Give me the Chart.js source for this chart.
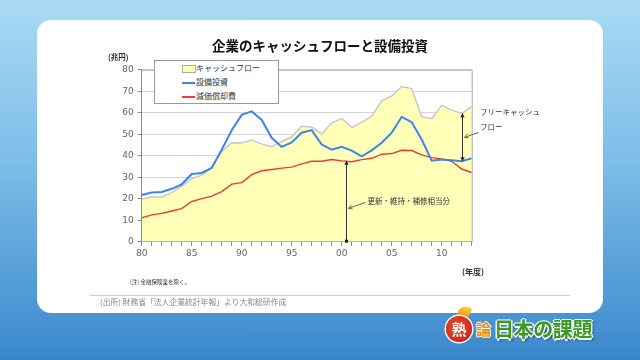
<!DOCTYPE html>
<html><head><meta charset="utf-8">
<script src="https://cdn.jsdelivr.net/npm/chart.js@4/dist/chart.umd.min.js"></script>
<style>
html,body{margin:0;padding:0;}
body{width:640px;height:360px;position:relative;overflow:hidden;
 background:linear-gradient(to bottom,#a9dbf4 0%,#7dbde8 45%,#3a88cc 100%);
 font-family:"Noto Sans CJK JP","Noto Sans",sans-serif;}
#card{position:absolute;left:37px;top:20px;width:566px;height:293px;background:#fff;border-radius:14px;}
#cv{position:absolute;left:0;top:0;}
.t{position:absolute;white-space:nowrap;}
#title{left:0;width:640px;top:35px;text-align:center;font-size:13.5px;font-weight:bold;color:#111;}
#unit{left:108px;top:51px;font-size:7.5px;font-weight:bold;color:#333;}
#legend{position:absolute;left:154px;top:60px;width:125px;height:44px;background:#fff;border:1px solid #999;box-sizing:border-box;}
.li{position:absolute;left:41px;font-size:8px;color:#333;line-height:10px;}
.sw{position:absolute;left:-14px;}
#note{left:130px;top:278px;font-size:5.5px;color:#333;}
#nendo{left:462px;top:266px;font-size:8px;font-weight:bold;color:#333;}
#sep{position:absolute;left:90px;top:295px;width:480px;height:1px;background:#ccc;}
#src{left:100px;top:296px;font-size:7.8px;color:#888;}
#logo1{position:absolute;left:446px;top:316px;width:26px;height:26px;border-radius:50%;
 background:radial-gradient(circle at 40% 40%,#f04a2a,#c51a12);color:#fff;font-weight:bold;font-size:15px;line-height:26px;text-align:center;
 box-shadow:0 0 0 1.5px #fff;}
#flame{position:absolute;left:458px;top:306px;width:12px;height:14px;background:linear-gradient(#ffd23a,#f07a10);border-radius:60% 10% 60% 40%;transform:rotate(20deg);}
#logo2{left:476px;top:318px;font-size:15px;font-weight:bold;color:#f08a00;
 text-shadow:1px 0 #fff,-1px 0 #fff,0 1px #fff,0 -1px #fff;}
#logo3{left:494px;top:314px;font-size:20px;font-weight:bold;color:#3a9a22;letter-spacing:-0.4px;
 text-shadow:1.5px 0 #fff,-1.5px 0 #fff,0 1.5px #fff,0 -1.5px #fff,2px 2px 2px rgba(0,0,0,0.5);}
</style></head>
<body>
<div id="card"></div>
<canvas id="cv" width="640" height="360"></canvas>
<div class="t" id="title">企業のキャッシュフローと設備投資</div>
<div class="t" id="unit">(兆円)</div>
<div id="legend">
 <div class="li" style="top:2px;"><span class="sw" style="top:2px;width:12px;height:6px;background:#ffffb4;border:1px solid #aaa;"></span>キャッシュフロー</div>
 <div class="li" style="top:16px;"><span class="sw" style="top:5px;width:13px;height:2px;background:#3a86f0;"></span>設備投資</div>
 <div class="li" style="top:30px;"><span class="sw" style="top:5px;width:13px;height:1.5px;background:#f03a3a;"></span>減価償却費</div>
</div>
<div class="t" id="note">(注) 金融保険業を除く。</div>
<div class="t" id="nendo">(年度)</div>
<div id="sep"></div>
<div class="t" id="src">(出所) 財務省「法人企業統計年報」より大和総研作成</div>
<div id="flame"></div>
<div id="logo1">熟</div>
<div class="t" id="logo2">論</div>
<div class="t" id="logo3">日本の課題</div>
<script>
const years = [1980,1981,1982,1983,1984,1985,1986,1987,1988,1989,1990,1991,1992,1993,1994,1995,1996,1997,1998,1999,2000,2001,2002,2003,2004,2005,2006,2007,2008,2009,2010,2011,2012,2013];
const cashFlow = [19.8,20.8,20.8,22.8,25.9,29.4,30.9,34.6,42.0,46.0,45.9,47.3,45.5,44.2,46.6,48.8,53.7,53.3,50.1,55.3,57.3,53.2,55.5,58.4,65.5,67.8,72.2,71.2,58.1,57.2,63.4,61.2,59.7,62.8];
const capex = [21.7,22.9,23.1,24.6,26.7,31.5,32.0,34.3,42.8,51.8,59.0,60.6,56.6,48.3,44.1,46.2,50.7,51.9,45.2,42.8,44.1,42.4,39.7,42.5,46.0,50.7,58.1,55.6,47.5,37.7,38.2,37.9,37.4,38.8];
const depreciation = [11.1,12.5,13.2,14.3,15.4,18.7,20.0,21.2,23.3,26.8,27.5,31.2,33.0,33.6,34.2,34.7,36.2,37.4,37.4,38.2,37.6,37.2,38.2,38.8,40.7,41.0,42.5,42.4,40.4,39.1,38.5,37.4,33.8,32.2];
const tickYears = [1980,1985,1990,1995,2000,2005,2010];
const tickLabels = ['80','85','90','95','00','05','10'];
const seriesNames = ['キャッシュフロー','設備投資','減価償却費'];

const pts = arr => arr.map((v,i)=>({x:years[i],y:v}));

const annot = {
  id:'annot',
  afterDatasetsDraw(chart){
    const c = chart.ctx, xs = chart.scales.x, ys = chart.scales.y, a = chart.chartArea;
    c.save();
    c.strokeStyle = '#a8a8a8'; c.lineWidth = 1;
    c.beginPath(); c.moveTo(a.left, a.top+0.5); c.lineTo(a.right+0.5, a.top+0.5); c.lineTo(a.right+0.5, a.bottom); c.stroke();
    c.strokeStyle = '#333'; c.fillStyle = '#222'; c.lineWidth = 1;
    const arrowHead = (x,y,dir)=>{ c.beginPath(); c.moveTo(x,y); c.lineTo(x-2.2,y+dir*4); c.lineTo(x+2.2,y+dir*4); c.closePath(); c.fill(); };
    const i1 = years.indexOf(2000);
    const x1 = Math.round(xs.getPixelForValue(2000.4))+0.5;
    const yTop1 = ys.getPixelForValue(depreciation[i1]), yBot1 = ys.getPixelForValue(0);
    c.beginPath(); c.moveTo(x1,yTop1); c.lineTo(x1,yBot1); c.stroke();
    arrowHead(x1,yTop1,1);
    c.fillRect(x1-1.5,yBot1-2,3,3);
    const i2 = years.indexOf(2012);
    const x2 = Math.round(xs.getPixelForValue(2012))+0.5;
    const yA = ys.getPixelForValue(cashFlow[i2]), yB = ys.getPixelForValue(capex[i2]);
    c.beginPath(); c.moveTo(x2,yA); c.lineTo(x2,yB); c.stroke();
    arrowHead(x2,yA,1); arrowHead(x2,yB,-1);
    c.strokeStyle = '#666';
    const ly1 = ys.getPixelForValue(15.5);
    c.beginPath(); c.moveTo(x1+2, ly1); c.lineTo(x1+19, ly1-6); c.stroke();
    c.beginPath(); c.moveTo(x1+2, ly1); c.lineTo(x1+5, ly1-3.5); c.moveTo(x1+2, ly1); c.lineTo(x1+6, ly1+0.5); c.stroke();
    const ly2 = ys.getPixelForValue(48.5);
    c.beginPath(); c.moveTo(x2+2, ly2); c.lineTo(x2+16, ly2-5); c.stroke();
    c.beginPath(); c.moveTo(x2+2, ly2); c.lineTo(x2+5, ly2-3.5); c.moveTo(x2+2, ly2); c.lineTo(x2+6, ly2+0.5); c.stroke();
    c.fillStyle = '#333'; c.font = '7.5px "Noto Sans CJK JP"'; c.textBaseline = 'middle';
    c.fillText('更新・維持・補修相当分', x1+21, ly1-7);
    c.fillText('フリーキャッシュ', 480, 112);
    c.fillText('フロー', 480, 127);
    c.restore();
  }
};

new Chart(document.getElementById('cv'), {
  type:'line',
  data:{datasets:[
    {label:seriesNames[1], data:pts(capex), borderColor:'#3a86f0', borderWidth:2, pointRadius:0, fill:false, tension:0, order:1},
    {label:seriesNames[2], data:pts(depreciation), borderColor:'#f03a3a', borderWidth:1.4, pointRadius:0, fill:false, tension:0, order:2},
    {label:seriesNames[0], data:pts(cashFlow), borderColor:'#c8c8c8', borderWidth:1.5, backgroundColor:'#ffffb8', pointRadius:0, fill:'origin', tension:0, order:3}
  ]},
  options:{
    responsive:false, animation:false, devicePixelRatio:1,
    layout:{padding:{left:101.7, right:168.3, top:69.7, bottom:96.3}},
    plugins:{legend:{display:false}, tooltip:{enabled:false}},
    scales:{
      x:{type:'linear', min:1980, max:2013,
        afterFit(s){ s.height = 22; },
        grid:{drawOnChartArea:false, drawTicks:true, tickLength:4, color:'#888'},
        border:{color:'#888'},
        ticks:{stepSize:1, autoSkip:false, maxRotation:0, padding:2.5, color:'#666', font:{size:9, family:'"DejaVu Sans"'},
          callback:v=>{const k=tickYears.indexOf(v); return k>=0?tickLabels[k]:'';}}
      },
      y:{min:0, max:80,
        afterFit(s){ s.width = 40; },
        grid:{color:'#d4d4d4', tickLength:4, tickColor:'#888'},
        border:{color:'#888'},
        ticks:{stepSize:10, padding:4, color:'#666', font:{size:9, family:'"DejaVu Sans"'}}
      }
    }
  },
  plugins:[annot]
});
</script>
</body></html>
